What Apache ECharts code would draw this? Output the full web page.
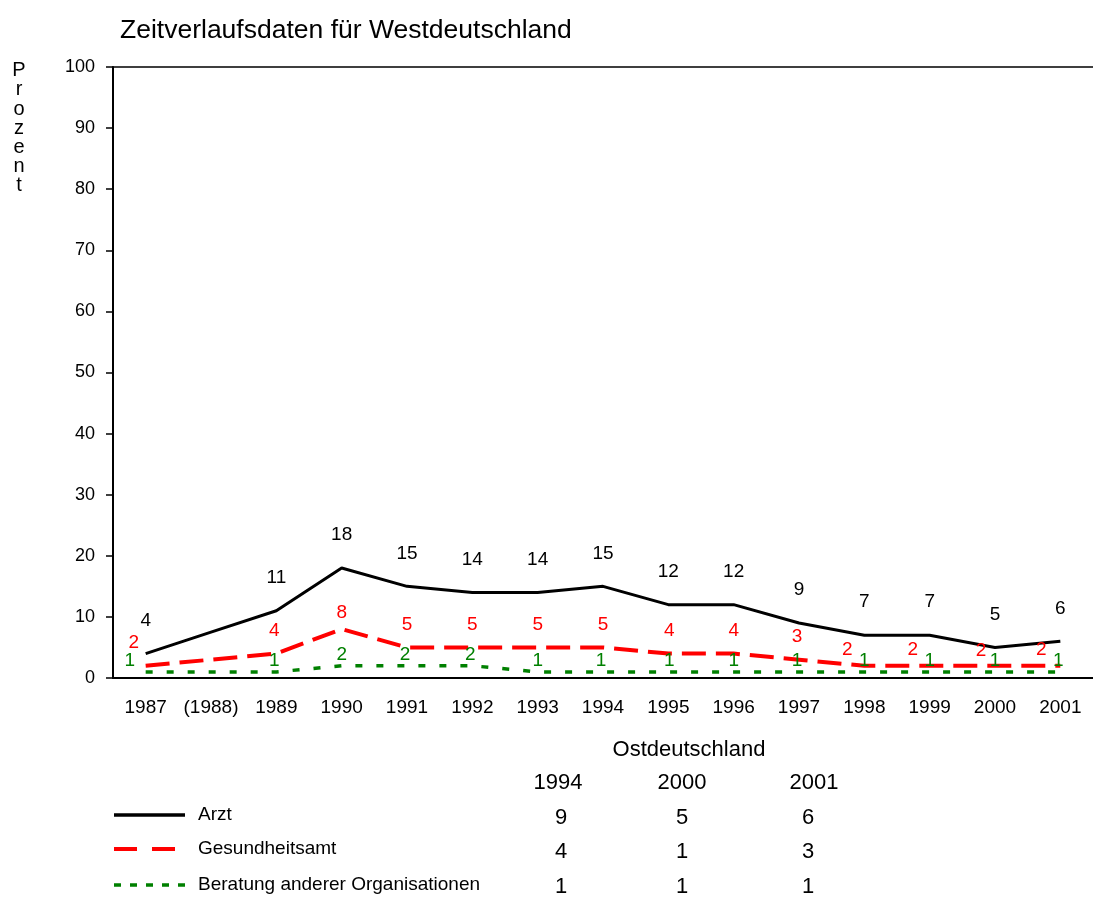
<!DOCTYPE html>
<html>
<head>
<meta charset="utf-8">
<title>Zeitverlaufsdaten für Westdeutschland</title>
<script src="https://cdn.jsdelivr.net/npm/echarts@6.0.0/dist/echarts.min.js"></script>
<style>
    html, body { margin: 0; padding: 0; background: #fff; }
    #chart { width: 1093px; height: 897px; }
</style>
</head>
<body>
<div id="chart"></div>
<script>
// Daten Westdeutschland
var years = ['1987', '(1988)', '1989', '1990', '1991', '1992', '1993', '1994', '1995', '1996', '1997', '1998', '1999', '2000', '2001'];
var arzt = [4, 7.5, 11, 18, 15, 14, 14, 15, 12, 12, 9, 7, 7, 5, 6];
var gesundheitsamt = [2, 3, 4, 8, 5, 5, 5, 5, 4, 4, 3, 2, 2, 2, 2];
var beratung = [1, 1, 1, 2, 2, 2, 1, 1, 1, 1, 1, 1, 1, 1, 1];
var yTicks = [0, 10, 20, 30, 40, 50, 60, 70, 80, 90, 100];

// Daten Ostdeutschland (Tabelle unten)
var eastYears = ['1994', '2000', '2001'];
var eastArzt = [9, 5, 6];
var eastGesundheitsamt = [4, 1, 3];
var eastBeratung = [1, 1, 1];
var seriesNames = ['Arzt', 'Gesundheitsamt', 'Beratung anderer Organisationen'];

// kleine Verschiebungen der Beschriftungen wie im Original
var redShiftX = [-12, 0, -2, 0, 0, 0, 0, 0, 1, 0, -2, -17, -17, -14, -19];
var redShiftY = [0, 0, 0, 7, 0, 0, 0, 0, 0, 0, 0, 7, 7, 8, 7];
var greenShiftX = [-16, 0, -2, 0, -2, -2, 0, -2, 1, 0, -2, 0, 0, 0, -2];

var font = '"Liberation Sans", Arial, sans-serif';
var colors = ['#000000', '#ff0000', '#008000'];

var myChart = echarts.init(document.getElementById('chart'));

function hide1988(p) {
    return p.name === '(1988)' ? '' : String(p.value);
}

function withShift(values, dx, dy) {
    return values.map(function (v, i) {
        return { value: v, label: { offset: [(dx && dx[i]) || 0, (dy && dy[i]) || 0] } };
    });
}

function txt(s, x, y, size, align) {
    return {
        type: 'text', x: x, y: y,
        style: { text: s, font: size + 'px ' + font, fill: '#000', align: align || 'center', verticalAlign: 'middle' }
    };
}

// Tabelle Ostdeutschland
var colYear = [558, 682, 814];
var colVal = [561, 682, 808];
var rowY = [818, 852, 887];
var extras = [txt('Ostdeutschland', 689, 750, 22)];
var rows = [eastArzt, eastGesundheitsamt, eastBeratung];
eastYears.forEach(function (y, c) {
    extras.push(txt(y, colYear[c], 783, 22));
    rows.forEach(function (r, k) {
        extras.push(txt(String(r[c]), colVal[c], rowY[k], 22));
    });
});

// Legende von Hand (Linie + Text)
var legendY = [815, 849, 885];
var legendDash = [null, [23, 15], [7, 9]];
var legendWidth = [3.5, 4, 3.5];
seriesNames.forEach(function (n, k) {
    extras.push({
        type: 'line',
        shape: { x1: 114, y1: legendY[k], x2: 185, y2: legendY[k] },
        style: { stroke: colors[k], lineWidth: legendWidth[k], lineDash: legendDash[k] }
    });
    extras.push(txt(n, 198, legendY[k], 19, 'left'));
});

// Achsentitel "Prozent" senkrecht gestapelt
extras.push({
    type: 'text', x: 19, y: 61,
    style: { text: 'P\nr\no\nz\ne\nn\nt', font: '20px ' + font, fill: '#000', align: 'center', verticalAlign: 'top', lineHeight: 19.2 }
});

function lineSeries(k, data, dist, lineStyle) {
    return {
        name: seriesNames[k],
        type: 'line',
        data: data,
        symbol: 'circle',
        symbolSize: 1,
        showSymbol: true,
        itemStyle: { color: 'rgba(0,0,0,0)' },
        lineStyle: lineStyle,
        label: { show: true, position: 'top', distance: dist, fontSize: 19, color: colors[k], fontFamily: font, formatter: hide1988 }
    };
}

var option = {
    backgroundColor: '#fff',
    animation: false,
    textStyle: { fontFamily: font },
    title: {
        text: 'Zeitverlaufsdaten für Westdeutschland',
        left: 115,
        top: 12,
        textStyle: { fontSize: 26.5, fontWeight: 'normal', color: '#000', fontFamily: font }
    },
    grid: { left: 113, right: -13, top: 67, bottom: 219, containLabel: false },
    xAxis: [{
        type: 'category',
        data: years,
        boundaryGap: true,
        axisLine: { lineStyle: { color: '#000', width: 2 } },
        axisTick: { length: 7, interval: 0, lineStyle: { color: '#000', width: 1.5 } },
        axisLabel: { interval: 0, margin: 20, fontSize: 19, color: '#000', fontFamily: font }
    }, {
        type: 'category',
        data: years,
        position: 'top',
        axisLine: { lineStyle: { color: '#000', width: 1.5 } },
        axisTick: { show: false },
        axisLabel: { show: false }
    }],
    yAxis: {
        type: 'value',
        min: yTicks[0],
        max: yTicks[yTicks.length - 1],
        interval: 10,
        axisLine: { show: true, lineStyle: { color: '#000', width: 2 } },
        axisTick: { show: true, length: 7, lineStyle: { color: '#000', width: 1.5 } },
        axisLabel: { margin: 18, fontSize: 18, color: '#000', fontFamily: font },
        splitLine: { show: false }
    },
    series: [
        lineSeries(0, arzt, 23, { color: colors[0], width: 3 }),
        lineSeries(1, withShift(gesundheitsamt, redShiftX, redShiftY), 13, { color: colors[1], width: 4, type: [24, 10] }),
        lineSeries(2, withShift(beratung, greenShiftX, null), 1, { color: colors[2], width: 3.5, type: [7, 14] })
    ],
    graphic: extras
};

myChart.setOption(option);
</script>
</body>
</html>
